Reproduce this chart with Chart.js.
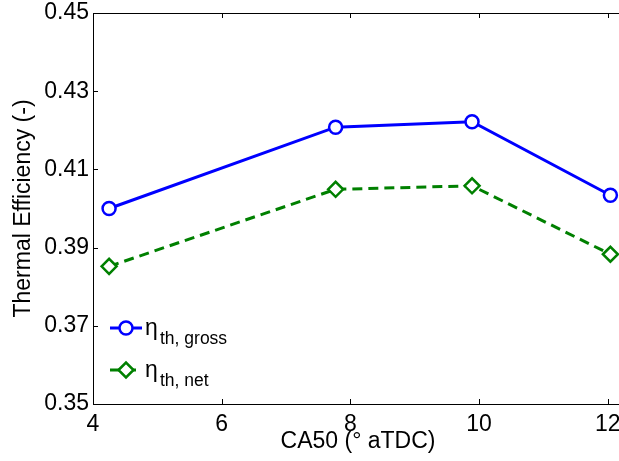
<!DOCTYPE html>
<html>
<head>
<meta charset="utf-8">
<script src="https://cdn.jsdelivr.net/npm/chart.js@4.4.0/dist/chart.umd.min.js"></script>
<style>
  html, body { margin: 0; padding: 0; background: #fff; overflow: hidden; }
  #wrap { width: 680px; height: 461px; }
</style>
</head>
<body>
<div id="wrap"><canvas id="chart"></canvas></div>
<script>
// CA50 positions (deg aTDC)
const ca50 = [4.25, 7.77, 9.89, 12.04];
// thermal efficiencies
const etaGross = [0.4000, 0.4208, 0.4222, 0.4034];
const etaNet = [0.3852, 0.4049, 0.4058, 0.3883];
const xTicks = [4, 6, 8, 10, 12];
const yTicks = [0.35, 0.37, 0.39, 0.41, 0.43, 0.45];

const FONT = '"Liberation Sans", Arial, sans-serif';

function toPoints(xs, ys) {
    return xs.map((x, i) => ({ x: x, y: ys[i] }));
}

// box with inward ticks, like matlab
const boxPlugin = {
    id: 'box',
    afterDraw(chart) {
        const ctx = chart.ctx;
        const a = chart.chartArea;
        const xs = chart.scales.x, ys = chart.scales.y;
        ctx.save();
        ctx.strokeStyle = '#000';
        ctx.lineWidth = 1;
        ctx.strokeRect(Math.round(a.left) + 0.5, Math.round(a.top) + 0.5,
            Math.round(a.right - a.left), Math.round(a.bottom - a.top));
        ctx.beginPath();
        xTicks.forEach(v => {
            const px = Math.round(xs.getPixelForValue(v)) + 0.5;
            ctx.moveTo(px, a.bottom); ctx.lineTo(px, a.bottom - 5);
            ctx.moveTo(px, a.top); ctx.lineTo(px, a.top + 5);
        });
        yTicks.forEach(v => {
            const py = Math.round(ys.getPixelForValue(v)) + 0.5;
            ctx.moveTo(a.left, py); ctx.lineTo(a.left + 5, py);
            ctx.moveTo(a.right, py); ctx.lineTo(a.right - 5, py);
        });
        ctx.stroke();

        // axis titles (the visible part of the plot is cut at the window edge)
        ctx.fillStyle = '#000';
        ctx.font = '23px ' + FONT;
        ctx.textAlign = 'center';
        ctx.textBaseline = 'alphabetic';
        ctx.fillText('CA50 (\u00b0 aTDC)', 358, 448);
        ctx.translate(24, (a.top + a.bottom) / 2);
        ctx.rotate(-Math.PI / 2);
        ctx.textBaseline = 'middle';
        ctx.fillText('Thermal Efficiency (-)', 0, 0);
        ctx.restore();
    }
};

// legend with subscripts
const legendPlugin = {
    id: 'etaLegend',
    afterDraw(chart) {
        const ctx = chart.ctx;
        const subs = ['th, gross', 'th, net'];
        chart.data.datasets.forEach((ds, i) => {
            const y = 328 + i * 42;
            ctx.save();
            ctx.strokeStyle = ds.borderColor;
            ctx.lineWidth = ds.borderWidth;
            ctx.setLineDash(ds.borderDash || []);
            ctx.beginPath();
            ctx.moveTo(110, y); ctx.lineTo(142, y);
            ctx.stroke();
            ctx.setLineDash([]);
            ctx.fillStyle = ds.pointBackgroundColor;
            ctx.strokeStyle = ds.borderColor;
            ctx.lineWidth = ds.pointBorderWidth;
            Chart.helpers.drawPoint(ctx, {
                pointStyle: ds.pointStyle, radius: ds.pointRadius, rotation: 0,
                borderWidth: ds.pointBorderWidth
            }, 126, y);
            ctx.fillStyle = '#000';
            ctx.textAlign = 'left';
            ctx.textBaseline = 'alphabetic';
            ctx.font = '23px ' + FONT;
            ctx.fillText('\u03b7', 145, y + 6.5);
            ctx.font = '17.5px ' + FONT;
            ctx.fillText(subs[i], 160, y + 16);
            ctx.restore();
        });
    }
};

new Chart(document.getElementById('chart'), {
    type: 'line',
    data: {
        datasets: [{
            label: '\u03b7 th, gross',
            data: toPoints(ca50, etaGross),
            borderColor: '#0000ff',
            borderWidth: 3,
            pointStyle: 'circle',
            pointRadius: 6.5,
            pointBorderWidth: 2.5,
            pointBackgroundColor: '#ffffff',
            pointBorderColor: '#0000ff',
            tension: 0
        }, {
            label: '\u03b7 th, net',
            data: toPoints(ca50, etaNet),
            borderColor: '#008000',
            borderWidth: 3,
            borderDash: [10, 6],
            pointStyle: 'rectRot',
            pointRadius: 7.5,
            pointBorderWidth: 2.5,
            pointBackgroundColor: '#ffffff',
            pointBorderColor: '#008000',
            tension: 0
        }]
    },
    options: {
        responsive: true,
        maintainAspectRatio: false,
        animation: false,
        layout: { padding: { top: 13, right: 40, left: 0, bottom: 0 } },
        plugins: {
            legend: { display: false },
            tooltip: { enabled: false }
        },
        scales: {
            x: {
                type: 'linear',
                min: 4,
                max: 12.5,
                afterBuildTicks: s => { s.ticks = xTicks.map(v => ({ value: v })); },
                afterFit: s => { s.height = 57; s.paddingLeft = 0; s.paddingRight = 0; },
                grid: { display: false, drawTicks: false },
                border: { display: false },
                ticks: {
                    color: '#000',
                    font: { family: FONT, size: 23 },
                    padding: 7,
                    maxRotation: 0,
                    autoSkip: false
                }
            },
            y: {
                min: 0.35,
                max: 0.45,
                afterBuildTicks: s => { s.ticks = yTicks.map(v => ({ value: v })); },
                afterFit: s => { s.width = 93; s.paddingTop = 0; s.paddingBottom = 0; },
                grid: { display: false, drawTicks: false },
                border: { display: false },
                ticks: {
                    color: '#000',
                    font: { family: FONT, size: 23 },
                    padding: 4,
                    callback: v => v.toFixed(2)
                }
            }
        }
    },
    plugins: [boxPlugin, legendPlugin]
});
</script>
</body>
</html>
